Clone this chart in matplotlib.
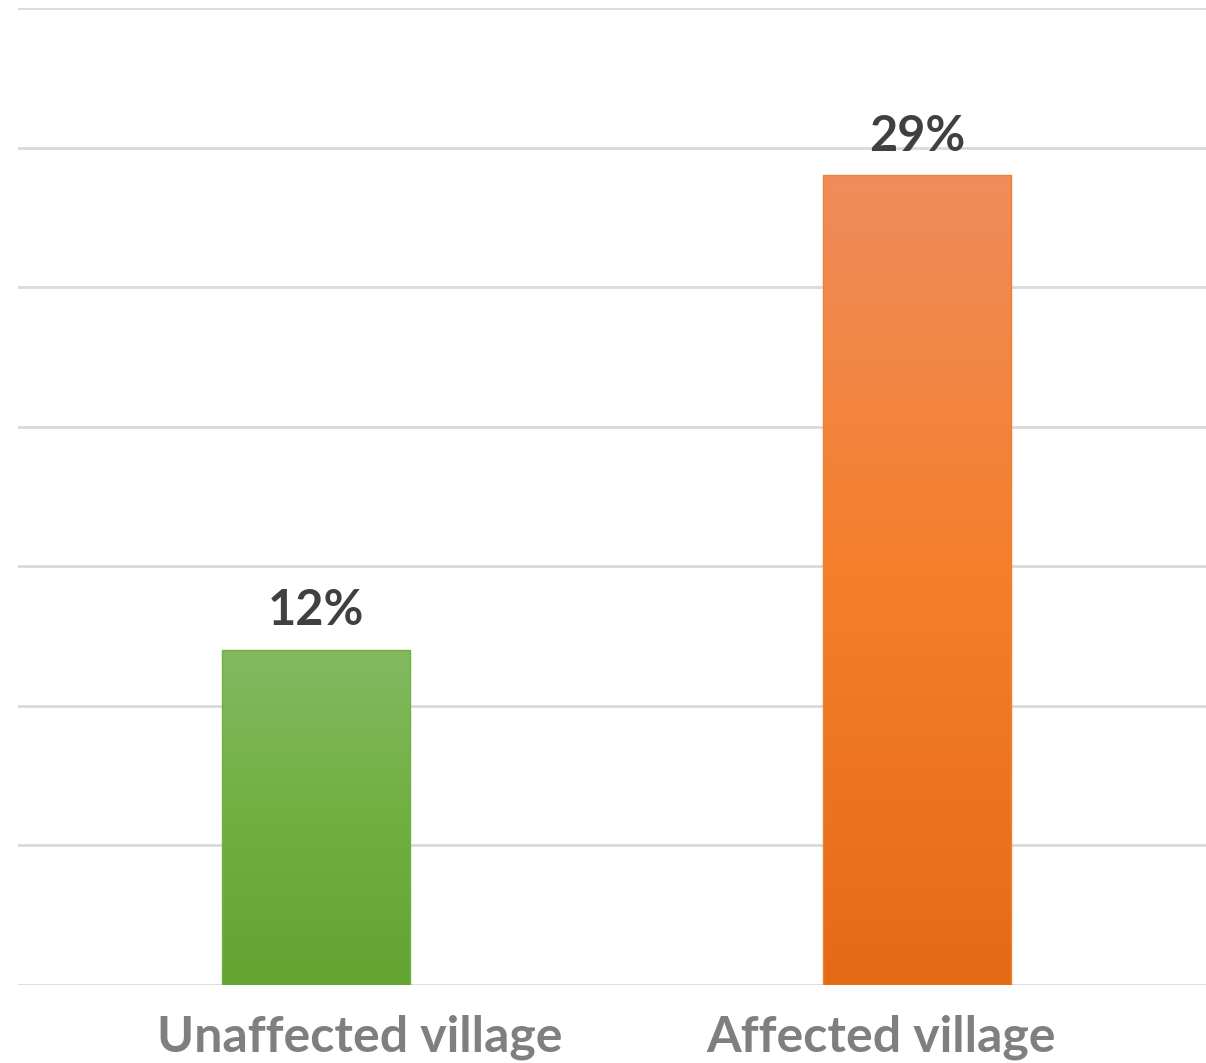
import numpy as np
import matplotlib
matplotlib.use("Agg")
import matplotlib.pyplot as plt
from matplotlib.colors import LinearSegmentedColormap

# Data
categories = ["Unaffected village", "Affected village"]
values = [12, 29]
labels = ["12%", "29%"]

# gradient colours per bar (top, middle, bottom)
gradients = [
    ["#84B962", "#70B040", "#62A332"],
    ["#F08C5C", "#F47F2A", "#E56A17"],
]

plt.rcParams['font.family'] = ['Lato', 'DejaVu Sans']

fig = plt.figure(figsize=(12.06, 10.63), dpi=100)
W, H = 1206, 1063
ax = fig.add_axes([18 / W, 1 - 985 / H, (1206 - 18) / W, (985 - 8) / H])

ax.set_ylim(0, 35)
ax.set_xlim(-0.496, 1.481)
bar_w = 0.314

for i, (v, cols) in enumerate(zip(values, gradients)):
    cmap = LinearSegmentedColormap.from_list(f"g{i}", cols[::-1])
    grad = np.linspace(0, 1, 256).reshape(-1, 1)
    x0, x1 = i - bar_w / 2, i + bar_w / 2
    im = ax.imshow(grad, cmap=cmap, aspect='auto', origin='lower',
                   extent=[x0, x1, 0, v], zorder=2)
    rect = plt.Rectangle((x0, 0), bar_w, v, facecolor='none',
                         edgecolor=cols[1], linewidth=1.0, zorder=3)
    ax.add_patch(rect)
    im.set_clip_path(rect)
    ax.text(i, v + 0.6, labels[i], ha='center', va='bottom',
            fontsize=35, fontweight='bold', color='#404040', zorder=4)

ax.set_yticks(np.arange(0, 36, 5))
ax.yaxis.grid(True, color='#D9D9D9', linewidth=2)
ax.set_axisbelow(True)
ax.tick_params(left=False, labelleft=False, bottom=False, labelbottom=False)
for s in ax.spines.values():
    s.set_visible(False)

# category labels sit slightly off the bar centres in the original
label_shift = [0.072, -0.06]
for i, name in enumerate(categories):
    ax.text(i + label_shift[i], -1.05, name, ha='center', va='top',
            fontsize=36, fontweight='bold', color='#7F7F7F',
            transform=ax.transData, clip_on=False)

fig.savefig("out.png", dpi=100)
